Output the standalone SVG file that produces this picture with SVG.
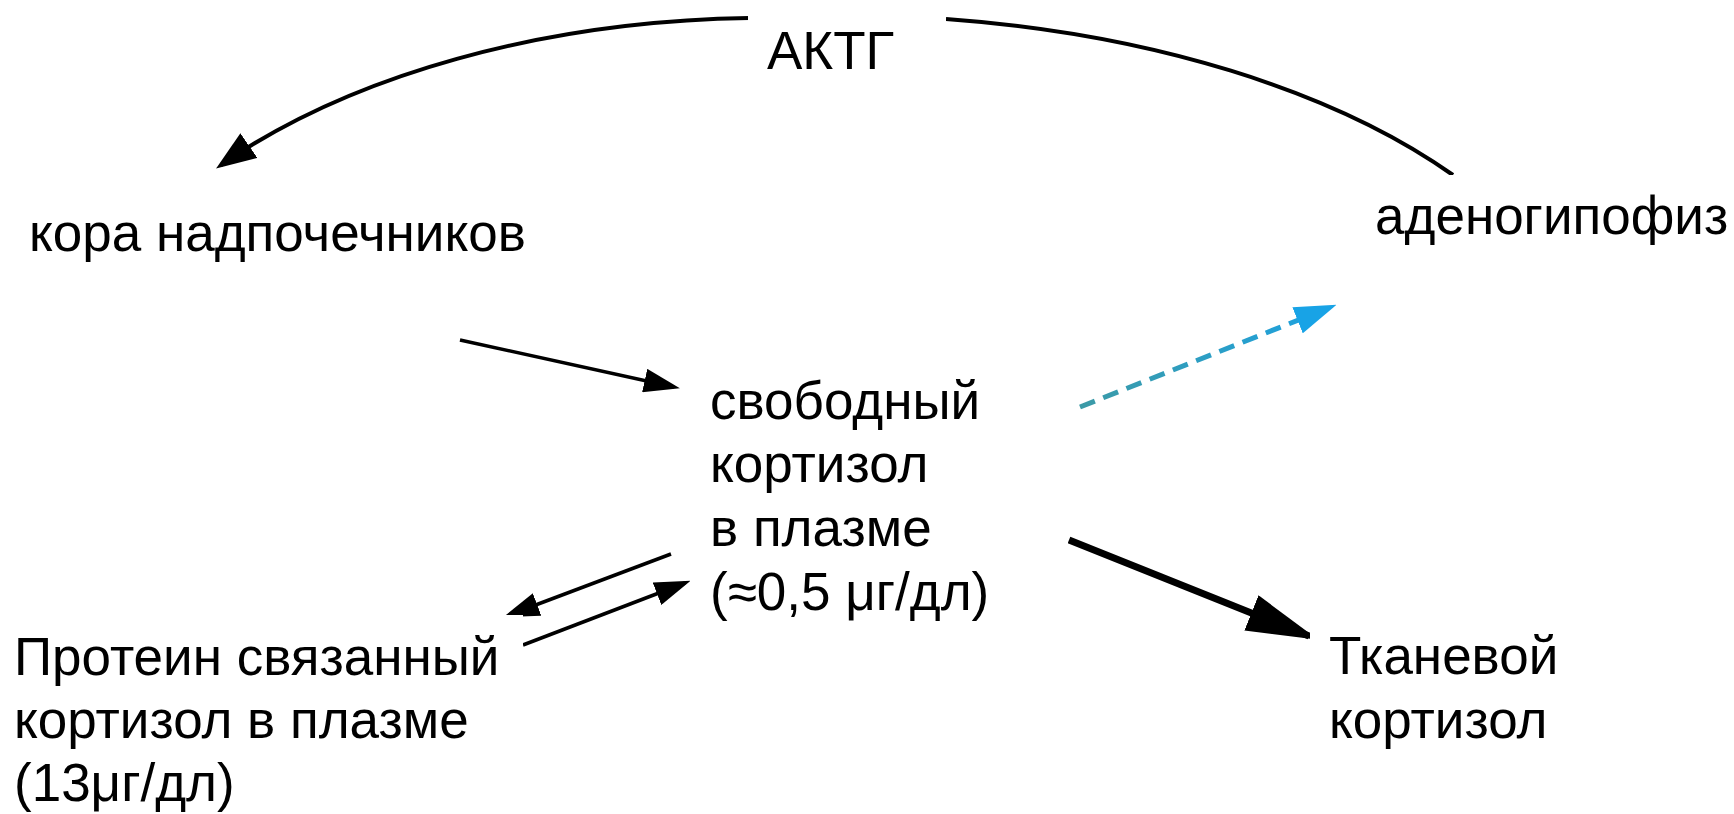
<svg xmlns="http://www.w3.org/2000/svg" width="1734" height="814" viewBox="0 0 1734 814">
  <style>
    .lbl { font-family: "Liberation Sans", Arial, sans-serif; font-size: 53px; fill: #000; }
    .bg { fill: #fff; stroke: none; }
    .ln { fill: none; stroke: #000; stroke-width: 3.5; }
    .arc { fill: none; stroke: #000; stroke-width: 4; }
    .thick { fill: none; stroke: #000; stroke-width: 7; }
    .dash { fill: none; stroke: url(#blueGrad); stroke-width: 5; stroke-dasharray: 16 9; }
  </style>
  <defs>
    <linearGradient id="blueGrad" gradientUnits="userSpaceOnUse" x1="1080" y1="407" x2="1331" y2="307">
      <stop offset="0" stop-color="#3c9aa6"/>
      <stop offset="1" stop-color="#1ca2e2"/>
    </linearGradient>
    <marker id="headArc" markerUnits="userSpaceOnUse" viewBox="0 0 40 30" markerWidth="40" markerHeight="30" refX="34" refY="15" orient="auto">
      <path d="M0,0 L40,15 L0,30 z" fill="#000"/>
    </marker>
    <marker id="headS" markerUnits="userSpaceOnUse" viewBox="0 0 36 24" markerWidth="36" markerHeight="24" refX="30" refY="12" orient="auto">
      <path d="M0,0 L36,12 L0,24 z" fill="#000"/>
    </marker>
    <marker id="headBlue" markerUnits="userSpaceOnUse" viewBox="0 0 42 28" markerWidth="42" markerHeight="28" refX="36" refY="14" orient="auto">
      <path d="M0,0 L42,14 L0,28 z" fill="#18a3e6"/>
    </marker>
    <marker id="headT" markerUnits="userSpaceOnUse" viewBox="0 0 72 38" markerWidth="72" markerHeight="38" refX="62" refY="19" orient="auto">
      <path d="M0,0 L72,19 L0,38 z" fill="#000"/>
    </marker>
  </defs>

  <rect x="0" y="0" width="1734" height="814" fill="#fff"/>

  <!-- connectors -->
  <g id="connectors">
    <path id="e-actg-cortex" class="arc" d="M749,18 A707,402 0 0 0 221,165" marker-end="url(#headArc)"/>
    <path id="e-pituitary-actg" class="arc" d="M946,19 A756,384 0 0 1 1453,175"/>
    <path id="e-cortex-free" class="ln" d="M460,340 L674,387" marker-end="url(#headS)"/>
    <path id="e-free-bound" class="ln" d="M671,554 L509,615" marker-end="url(#headS)"/>
    <path id="e-bound-free" class="ln" d="M523,645 L685,583" marker-end="url(#headS)"/>
    <path id="e-free-pituitary" class="dash" d="M1080,407 L1331,307" marker-end="url(#headBlue)"/>
    <path id="e-free-tissue" class="thick" d="M1069,540 L1309,636" marker-end="url(#headT)"/>
  </g>

  <!-- nodes -->
  <g id="n-actg">
    <rect class="bg" x="748" y="10" width="198" height="84"/>
    <text class="lbl" x="767" y="69">АКТГ</text>
  </g>
  <g id="n-cortex">
    <text class="lbl" x="29" y="251">кора надпочечников</text>
  </g>
  <g id="n-pituitary">
    <rect class="bg" x="1355" y="175" width="379" height="148"/>
    <text class="lbl" x="1375" y="234">аденогипофиз</text>
  </g>
  <g id="n-free">
    <rect class="bg" x="690" y="357" width="378" height="263"/>
    <text class="lbl" x="710" y="419">свободный</text>
    <text class="lbl" x="710" y="482">кортизол</text>
    <text class="lbl" x="710" y="546">в плазме</text>
    <text class="lbl" x="710" y="610">(≈0,5 μг/дл)</text>
  </g>
  <g id="n-bound">
    <rect class="bg" x="0" y="615" width="523" height="199"/>
    <text class="lbl" x="14" y="675">Протеин связанный</text>
    <text class="lbl" x="14" y="738">кортизол в плазме</text>
    <text class="lbl" x="14" y="801">(13μг/дл)</text>
  </g>
  <g id="n-tissue">
    <rect class="bg" x="1310" y="617" width="283" height="135"/>
    <text class="lbl" x="1329" y="674">Тканевой</text>
    <text class="lbl" x="1329" y="738">кортизол</text>
  </g>
</svg>
